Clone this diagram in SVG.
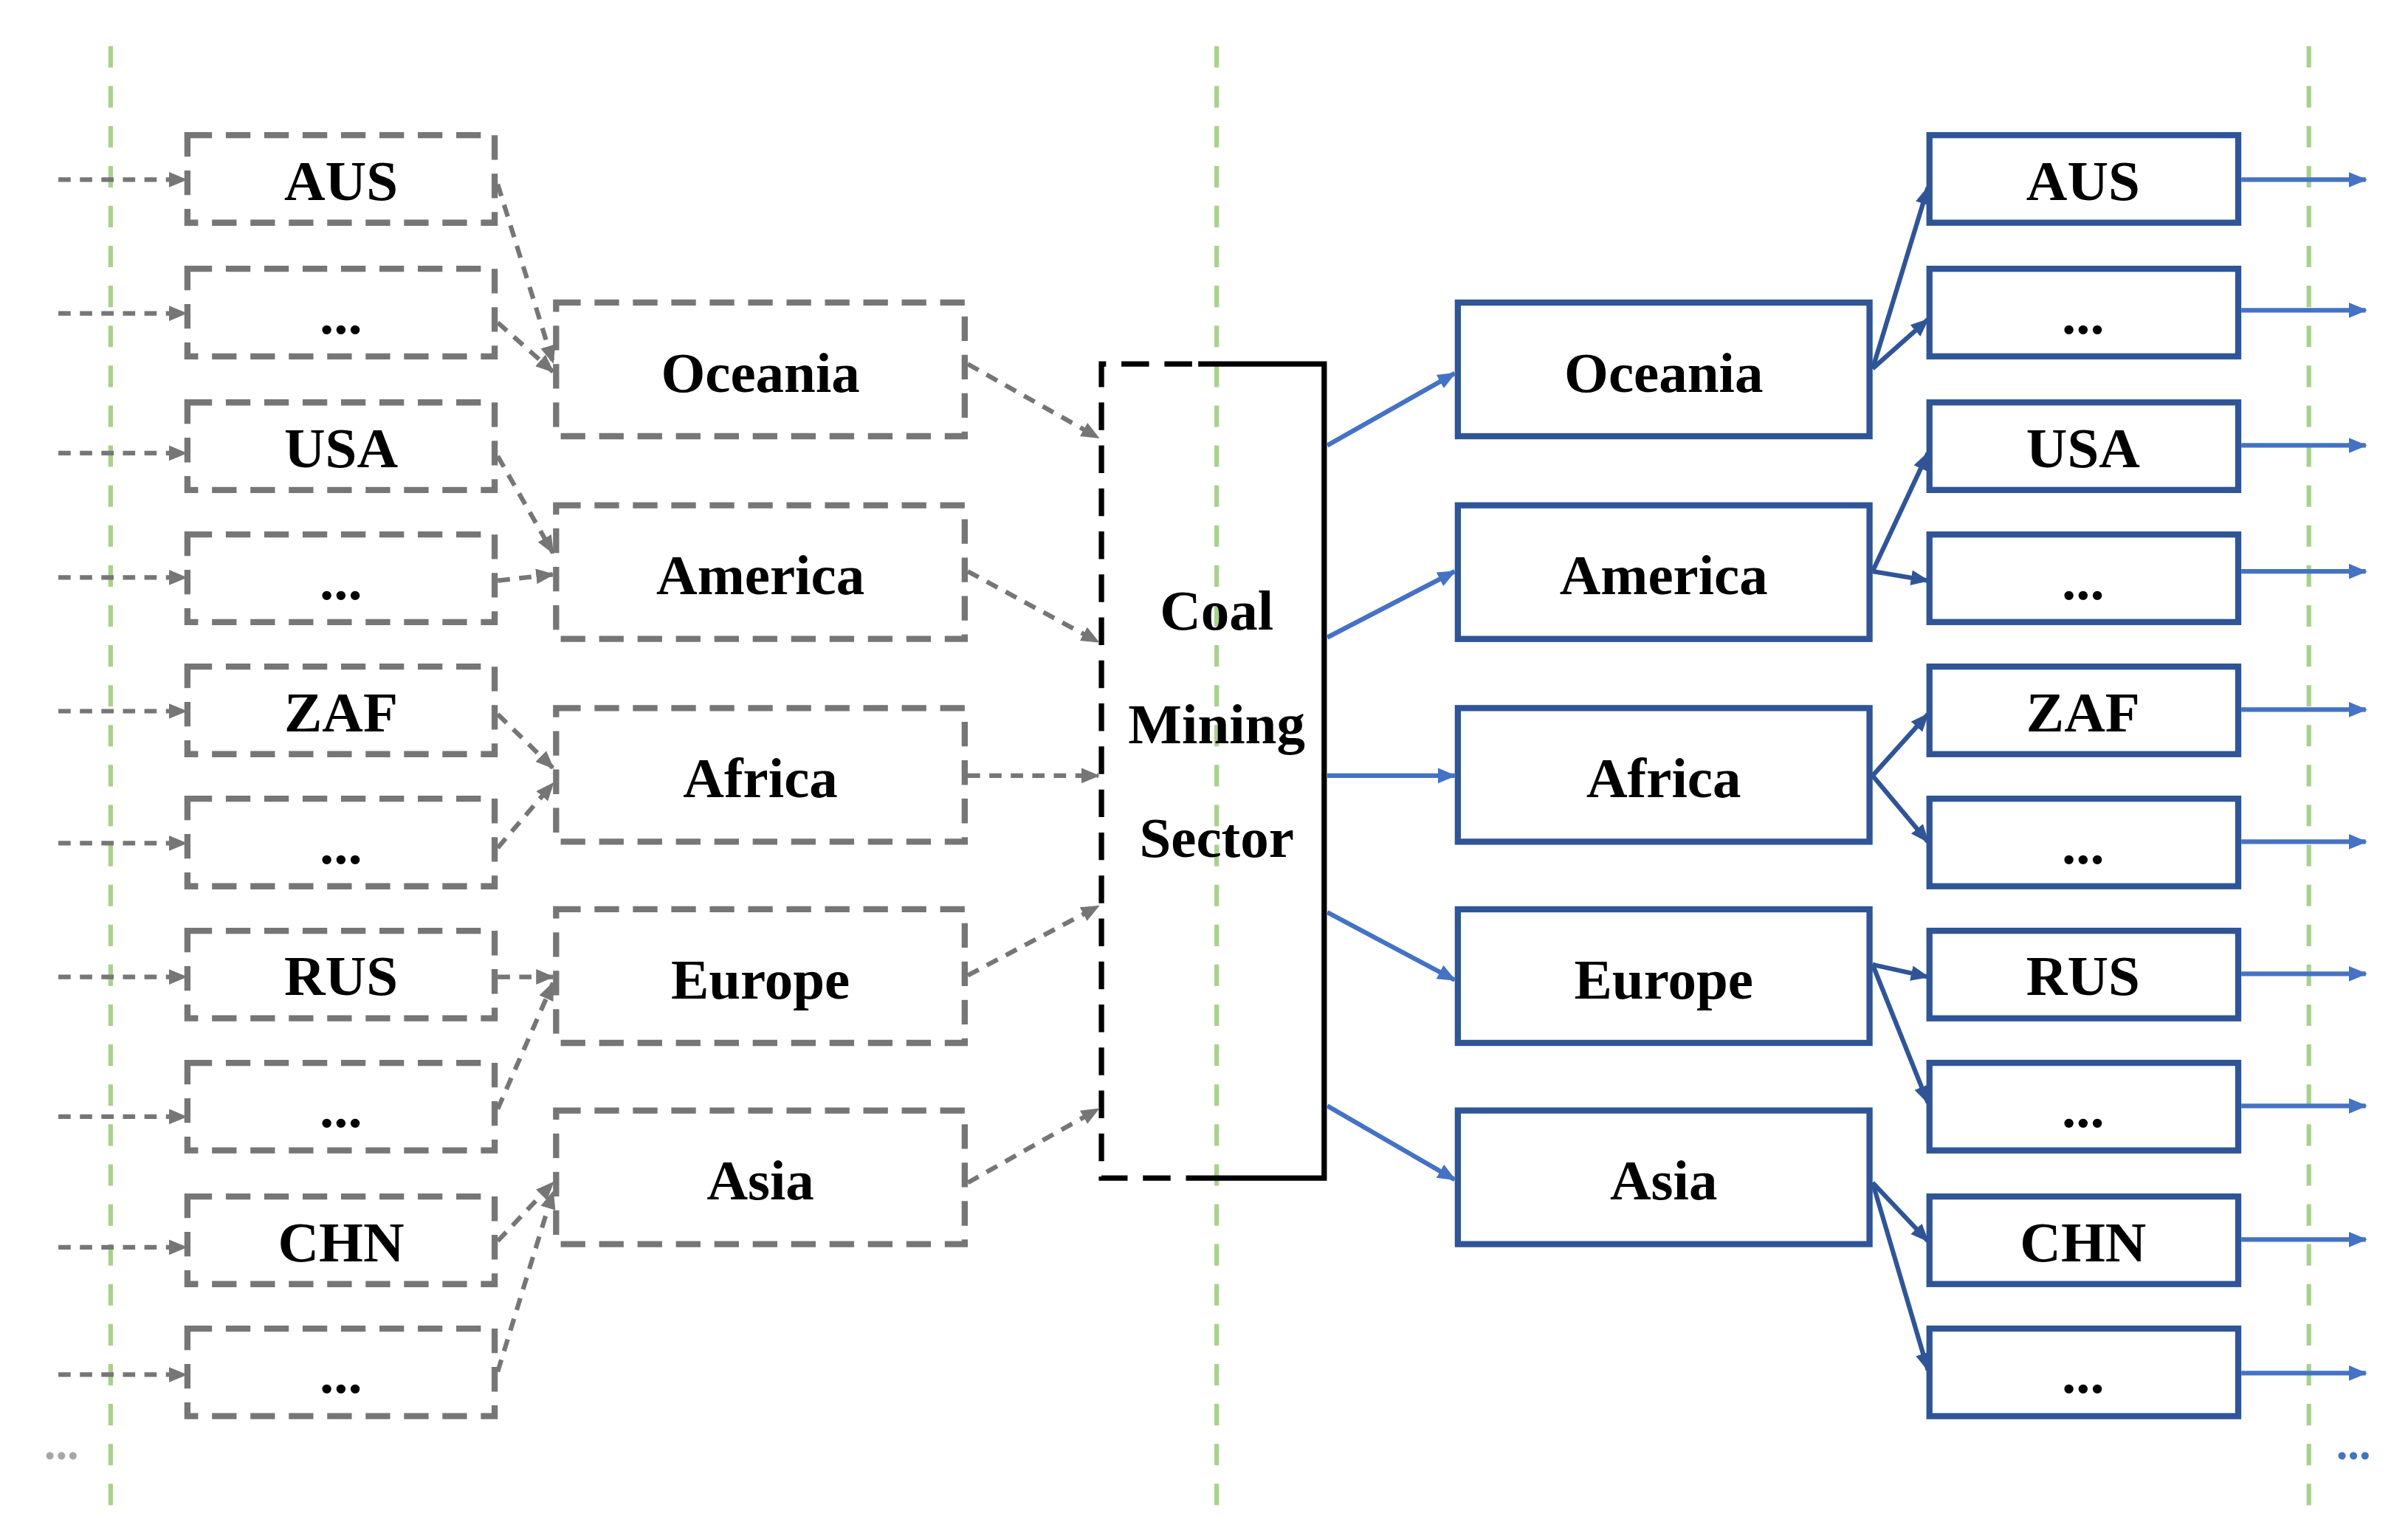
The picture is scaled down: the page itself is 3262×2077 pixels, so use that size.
<svg xmlns="http://www.w3.org/2000/svg" width="3262" height="2077" viewBox="0 0 3262 2077">
<defs>
<marker id="ag" markerUnits="userSpaceOnUse" markerWidth="12" markerHeight="12" refX="11" refY="6" orient="auto"><path d="M0,1 L12,6 L0,11 z" fill="#767676"/></marker>
<marker id="ab" markerUnits="userSpaceOnUse" markerWidth="12" markerHeight="12" refX="11" refY="6" orient="auto"><path d="M0,1 L12,6 L0,11 z" fill="#4472C4"/></marker>
<marker id="ad" markerUnits="userSpaceOnUse" markerWidth="12" markerHeight="12" refX="11" refY="6" orient="auto"><path d="M0,1 L12,6 L0,11 z" fill="#2F5597"/></marker>
</defs>
<style>
.gb{fill:none;stroke:#767676;stroke-width:4;stroke-dasharray:16 9}
.bb{fill:none;stroke:#2F5597;stroke-width:4}
.t{font-family:"Liberation Serif",serif;font-weight:bold;font-size:37px;text-anchor:middle;fill:#000}
.gl{stroke:#767676;stroke-width:3;stroke-dasharray:8 6;fill:none;marker-end:url(#ag)}
.bl{stroke:#4472C4;stroke-width:3;fill:none;marker-end:url(#ab)}
.dl{stroke:#2F5597;stroke-width:3;fill:none;marker-end:url(#ad)}
.gr{stroke:#A9D18E;stroke-width:3;stroke-dasharray:14 12}
</style>
<rect width="3262" height="2077" fill="#fff"/>
<g transform="scale(2.081)">
<g id="guides">
<line class="gr" x1="72" y1="30" x2="72" y2="980"/>
<line class="gr" x1="792" y1="30" x2="792" y2="980"/>
<line class="gr" x1="1503" y1="30" x2="1503" y2="980"/>
</g>
<g id="left-countries">
<g id="lc1"><rect class="gb" x="122" y="88" width="200" height="57"/><text class="t" x="222" y="130">AUS</text></g>
<g id="lc2"><rect class="gb" x="122" y="175" width="200" height="57"/><text class="t" x="222" y="217">...</text></g>
<g id="lc3"><rect class="gb" x="122" y="262" width="200" height="57"/><text class="t" x="222" y="304">USA</text></g>
<g id="lc4"><rect class="gb" x="122" y="348" width="200" height="57"/><text class="t" x="222" y="390">...</text></g>
<g id="lc5"><rect class="gb" x="122" y="434" width="200" height="57"/><text class="t" x="222" y="476">ZAF</text></g>
<g id="lc6"><rect class="gb" x="122" y="520" width="200" height="57"/><text class="t" x="222" y="562">...</text></g>
<g id="lc7"><rect class="gb" x="122" y="606" width="200" height="57"/><text class="t" x="222" y="648">RUS</text></g>
<g id="lc8"><rect class="gb" x="122" y="692" width="200" height="57"/><text class="t" x="222" y="734">...</text></g>
<g id="lc9"><rect class="gb" x="122" y="779" width="200" height="57"/><text class="t" x="222" y="821">CHN</text></g>
<g id="lc10"><rect class="gb" x="122" y="865" width="200" height="57"/><text class="t" x="222" y="907">...</text></g>
</g>
<g id="left-regions">
<g id="lr1"><rect class="gb" x="362" y="197" width="266" height="87"/><text class="t" x="495" y="255">Oceania</text></g>
<g id="lr2"><rect class="gb" x="362" y="329" width="266" height="87"/><text class="t" x="495" y="387">America</text></g>
<g id="lr3"><rect class="gb" x="362" y="461" width="266" height="87"/><text class="t" x="495" y="519">Africa</text></g>
<g id="lr4"><rect class="gb" x="362" y="592" width="266" height="87"/><text class="t" x="495" y="650">Europe</text></g>
<g id="lr5"><rect class="gb" x="362" y="723" width="266" height="87"/><text class="t" x="495" y="781">Asia</text></g>
</g>
<g id="coal">
<path d="M780,237 L862,237 L862,767 L790,767" fill="none" stroke="#000" stroke-width="3.5"/>
<path d="M790,767 L717,767 L717,237 L780,237" fill="none" stroke="#000" stroke-width="3.5" stroke-dasharray="18 10"/>
<text class="t" x="792" y="410">Coal</text>
<text class="t" x="792" y="484">Mining</text>
<text class="t" x="792" y="558">Sector</text>
</g>
<g id="right-regions">
<g id="rr1"><rect class="bb" x="949" y="197" width="268" height="87"/><text class="t" x="1083" y="255">Oceania</text></g>
<g id="rr2"><rect class="bb" x="949" y="329" width="268" height="87"/><text class="t" x="1083" y="387">America</text></g>
<g id="rr3"><rect class="bb" x="949" y="461" width="268" height="87"/><text class="t" x="1083" y="519">Africa</text></g>
<g id="rr4"><rect class="bb" x="949" y="592" width="268" height="87"/><text class="t" x="1083" y="650">Europe</text></g>
<g id="rr5"><rect class="bb" x="949" y="723" width="268" height="87"/><text class="t" x="1083" y="781">Asia</text></g>
</g>
<g id="right-countries">
<g id="rc1"><rect class="bb" x="1256" y="88" width="201" height="57"/><text class="t" x="1356" y="130">AUS</text></g>
<g id="rc2"><rect class="bb" x="1256" y="175" width="201" height="57"/><text class="t" x="1356" y="217">...</text></g>
<g id="rc3"><rect class="bb" x="1256" y="262" width="201" height="57"/><text class="t" x="1356" y="304">USA</text></g>
<g id="rc4"><rect class="bb" x="1256" y="348" width="201" height="57"/><text class="t" x="1356" y="390">...</text></g>
<g id="rc5"><rect class="bb" x="1256" y="434" width="201" height="57"/><text class="t" x="1356" y="476">ZAF</text></g>
<g id="rc6"><rect class="bb" x="1256" y="520" width="201" height="57"/><text class="t" x="1356" y="562">...</text></g>
<g id="rc7"><rect class="bb" x="1256" y="606" width="201" height="57"/><text class="t" x="1356" y="648">RUS</text></g>
<g id="rc8"><rect class="bb" x="1256" y="692" width="201" height="57"/><text class="t" x="1356" y="734">...</text></g>
<g id="rc9"><rect class="bb" x="1256" y="779" width="201" height="57"/><text class="t" x="1356" y="821">CHN</text></g>
<g id="rc10"><rect class="bb" x="1256" y="865" width="201" height="57"/><text class="t" x="1356" y="907">...</text></g>
</g>
<g id="connectors">
<line class="gl" x1="38" y1="117" x2="121" y2="117"/>
<line class="gl" x1="38" y1="204" x2="121" y2="204"/>
<line class="gl" x1="38" y1="295" x2="121" y2="295"/>
<line class="gl" x1="38" y1="376" x2="121" y2="376"/>
<line class="gl" x1="38" y1="463" x2="121" y2="463"/>
<line class="gl" x1="38" y1="549" x2="121" y2="549"/>
<line class="gl" x1="38" y1="636" x2="121" y2="636"/>
<line class="gl" x1="38" y1="727" x2="121" y2="727"/>
<line class="gl" x1="38" y1="812" x2="121" y2="812"/>
<line class="gl" x1="38" y1="895" x2="121" y2="895"/>
<line class="gl" x1="324" y1="120" x2="360" y2="236"/>
<line class="gl" x1="324" y1="210" x2="360" y2="242"/>
<line class="gl" x1="324" y1="297" x2="360" y2="360"/>
<line class="gl" x1="324" y1="378" x2="360" y2="374"/>
<line class="gl" x1="324" y1="465" x2="360" y2="500"/>
<line class="gl" x1="324" y1="552" x2="360" y2="510"/>
<line class="gl" x1="324" y1="636" x2="360" y2="636"/>
<line class="gl" x1="324" y1="722" x2="360" y2="640"/>
<line class="gl" x1="324" y1="808" x2="360" y2="770"/>
<line class="gl" x1="324" y1="893" x2="360" y2="776"/>
<line class="gl" x1="630" y1="237" x2="715" y2="285"/>
<line class="gl" x1="630" y1="372" x2="715" y2="418"/>
<line class="gl" x1="630" y1="505" x2="715" y2="505"/>
<line class="gl" x1="630" y1="635" x2="715" y2="590"/>
<line class="gl" x1="630" y1="770" x2="715" y2="722"/>
<line class="bl" x1="864" y1="290" x2="947" y2="243"/>
<line class="bl" x1="864" y1="415" x2="947" y2="372"/>
<line class="bl" x1="864" y1="505" x2="947" y2="505"/>
<line class="bl" x1="864" y1="594" x2="947" y2="638"/>
<line class="bl" x1="864" y1="720" x2="947" y2="768"/>
<line class="dl" x1="1219" y1="240" x2="1255" y2="122"/>
<line class="dl" x1="1219" y1="240" x2="1255" y2="208"/>
<line class="dl" x1="1219" y1="372" x2="1255" y2="295"/>
<line class="dl" x1="1219" y1="372" x2="1255" y2="378"/>
<line class="dl" x1="1219" y1="505" x2="1255" y2="465"/>
<line class="dl" x1="1219" y1="505" x2="1255" y2="548"/>
<line class="dl" x1="1219" y1="628" x2="1255" y2="636"/>
<line class="dl" x1="1219" y1="628" x2="1255" y2="718"/>
<line class="dl" x1="1219" y1="770" x2="1255" y2="808"/>
<line class="dl" x1="1219" y1="770" x2="1255" y2="892"/>
<line class="bl" x1="1459" y1="117" x2="1540" y2="117"/>
<line class="bl" x1="1459" y1="202" x2="1540" y2="202"/>
<line class="bl" x1="1459" y1="290" x2="1540" y2="290"/>
<line class="bl" x1="1459" y1="372" x2="1540" y2="372"/>
<line class="bl" x1="1459" y1="462" x2="1540" y2="462"/>
<line class="bl" x1="1459" y1="548" x2="1540" y2="548"/>
<line class="bl" x1="1459" y1="634" x2="1540" y2="634"/>
<line class="bl" x1="1459" y1="720" x2="1540" y2="720"/>
<line class="bl" x1="1459" y1="807" x2="1540" y2="807"/>
<line class="bl" x1="1459" y1="894" x2="1540" y2="894"/>
</g>
<text x="40" y="950" font-family="Liberation Serif,serif" font-weight="bold" font-size="30" fill="#A6A6A6" text-anchor="middle">...</text>
<text x="1532" y="950" font-family="Liberation Serif,serif" font-weight="bold" font-size="30" fill="#4472C4" text-anchor="middle">...</text>
</g>
</svg>
